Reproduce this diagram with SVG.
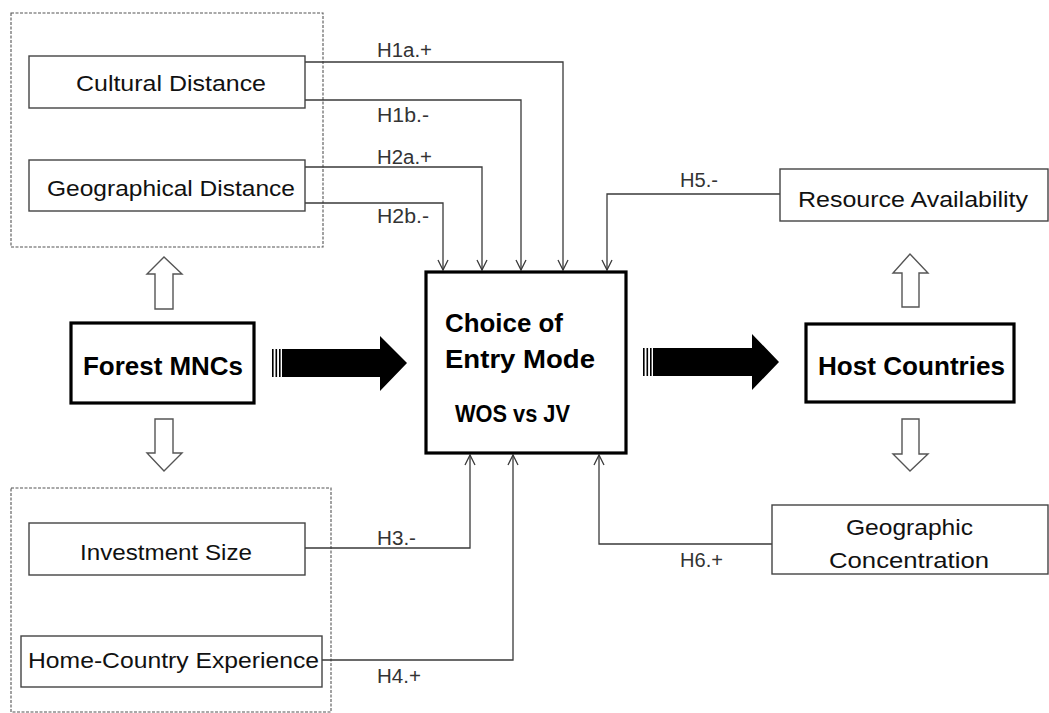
<svg xmlns="http://www.w3.org/2000/svg" width="1049" height="713" viewBox="0 0 1049 713">
<defs>
<style>
.bg{fill:#fff}
.thin{fill:#fff;stroke:#444;stroke-width:1.4}
.thick{fill:#fff;stroke:#000;stroke-width:3.2}
.dash{fill:none;stroke:#555;stroke-width:1.1;stroke-dasharray:3 1.5}
.lbl{font-family:"Liberation Sans",Arial,sans-serif;font-size:22px;fill:#111}
.bold{font-family:"Liberation Sans",Arial,sans-serif;font-size:25px;font-weight:bold;fill:#000}
.h{font-family:"Liberation Sans",Arial,sans-serif;font-size:20px;fill:#333}
.conn{fill:none;stroke:#3a3a3a;stroke-width:1.3}
.hollow{fill:#fff;stroke:#555;stroke-width:1.4;stroke-linejoin:miter}
.blk{fill:#000}
</style>
<marker id="arr" viewBox="0 0 12 12" refX="11" refY="6" markerWidth="12" markerHeight="12" markerUnits="userSpaceOnUse" orient="auto">
<path d="M1,1 L11,6 L1,11" fill="none" stroke="#3a3a3a" stroke-width="1.3"/>
</marker>
</defs>
<rect class="bg" x="0" y="0" width="1049" height="713"/>

<g id="group-top">
<rect class="dash" x="11" y="13" width="312" height="234"/>
</g>
<g id="group-bottom">
<rect class="dash" x="11" y="488" width="320" height="224"/>
</g>

<g id="connectors">
<polyline class="conn" points="305,62 563,62 563,270" marker-end="url(#arr)"/>
<polyline class="conn" points="305,100 521,100 521,270" marker-end="url(#arr)"/>
<polyline class="conn" points="305,167 482,167 482,270" marker-end="url(#arr)"/>
<polyline class="conn" points="305,203 443,203 443,270" marker-end="url(#arr)"/>
<polyline class="conn" points="780,194 607,194 607,270" marker-end="url(#arr)"/>
<polyline class="conn" points="305,548 470,548 470,455" marker-end="url(#arr)"/>
<polyline class="conn" points="322,660 513,660 513,455" marker-end="url(#arr)"/>
<polyline class="conn" points="772,544 599,544 599,455" marker-end="url(#arr)"/>
<text class="h" x="377" y="57" textLength="55" lengthAdjust="spacingAndGlyphs">H1a.+</text>
<text class="h" x="377" y="122" textLength="52" lengthAdjust="spacingAndGlyphs">H1b.-</text>
<text class="h" x="377" y="164" textLength="55" lengthAdjust="spacingAndGlyphs">H2a.+</text>
<text class="h" x="377" y="223" textLength="52" lengthAdjust="spacingAndGlyphs">H2b.-</text>
<text class="h" x="680" y="187" textLength="38" lengthAdjust="spacingAndGlyphs">H5.-</text>
<text class="h" x="377" y="545" textLength="39" lengthAdjust="spacingAndGlyphs">H3.-</text>
<text class="h" x="377" y="683" textLength="44" lengthAdjust="spacingAndGlyphs">H4.+</text>
<text class="h" x="680" y="567" textLength="43" lengthAdjust="spacingAndGlyphs">H6.+</text>
<!-- hollow block arrows -->
<path class="hollow" d="M155,309 L155,274 L147,274 L164,257 L182,274 L173,274 L173,309 Z"/>
<path class="hollow" d="M155,419 L155,453 L147,453 L164,471 L182,453 L173,453 L173,419 Z"/>
<path class="hollow" d="M902,307 L902,273 L893,273 L910,254 L928,273 L919,273 L919,307 Z"/>
<path class="hollow" d="M902,419 L902,454 L893,454 L910,471 L928,454 L919,454 L919,419 Z"/>
<!-- striped black arrows -->
<rect class="blk" x="272" y="349" width="1.6" height="28"/>
<rect class="blk" x="275.5" y="349" width="1.6" height="28"/>
<rect class="blk" x="279" y="349" width="1.6" height="28"/>
<path class="blk" d="M282,349 L380,349 L380,336 L407,363 L380,391 L380,377 L282,377 Z"/>
<rect class="blk" x="643" y="348" width="1.6" height="28"/>
<rect class="blk" x="646.5" y="348" width="1.6" height="28"/>
<rect class="blk" x="650" y="348" width="1.6" height="28"/>
<path class="blk" d="M653,348 L752,348 L752,334 L779,362 L752,390 L752,376 L653,376 Z"/>
</g>

<g id="cultural-distance">
<rect class="thin" x="29" y="56" width="276" height="52"/>
<text class="lbl" x="76" y="91" textLength="190" lengthAdjust="spacingAndGlyphs">Cultural Distance</text>
</g>
<g id="geographical-distance">
<rect class="thin" x="29" y="160" width="276" height="51"/>
<text class="lbl" x="47" y="196" textLength="248" lengthAdjust="spacingAndGlyphs">Geographical Distance</text>
</g>
<g id="investment-size">
<rect class="thin" x="29" y="523" width="276" height="52"/>
<text class="lbl" x="80" y="560" textLength="172" lengthAdjust="spacingAndGlyphs">Investment Size</text>
</g>
<g id="home-country-experience">
<rect class="thin" x="21" y="636" width="301" height="51"/>
<text class="lbl" x="28" y="668" textLength="291" lengthAdjust="spacingAndGlyphs">Home-Country Experience</text>
</g>
<g id="forest-mncs">
<rect class="thick" x="71" y="323" width="183" height="80"/>
<text class="bold" x="83" y="375" textLength="160" lengthAdjust="spacingAndGlyphs">Forest MNCs</text>
</g>
<g id="choice-of-entry-mode">
<rect class="thick" x="426" y="272" width="200" height="181"/>
<text class="bold" x="445" y="332" textLength="118" lengthAdjust="spacingAndGlyphs">Choice of</text>
<text class="bold" x="445" y="368" textLength="150" lengthAdjust="spacingAndGlyphs">Entry Mode</text>
<text class="bold" x="455" y="422" style="font-size:23px" textLength="115" lengthAdjust="spacingAndGlyphs">WOS vs JV</text>
</g>
<g id="host-countries">
<rect class="thick" x="806" y="324" width="208" height="78"/>
<text class="bold" x="818" y="375" textLength="187" lengthAdjust="spacingAndGlyphs">Host Countries</text>
</g>
<g id="resource-availability">
<rect class="thin" x="780" y="169" width="268" height="52"/>
<text class="lbl" x="798" y="207" textLength="230" lengthAdjust="spacingAndGlyphs">Resource Availability</text>
</g>
<g id="geographic-concentration">
<rect class="thin" x="772" y="505" width="276" height="69"/>
<text class="lbl" x="846" y="535" textLength="127" lengthAdjust="spacingAndGlyphs">Geographic</text>
<text class="lbl" x="829" y="568" textLength="160" lengthAdjust="spacingAndGlyphs">Concentration</text>
</g>
</svg>
